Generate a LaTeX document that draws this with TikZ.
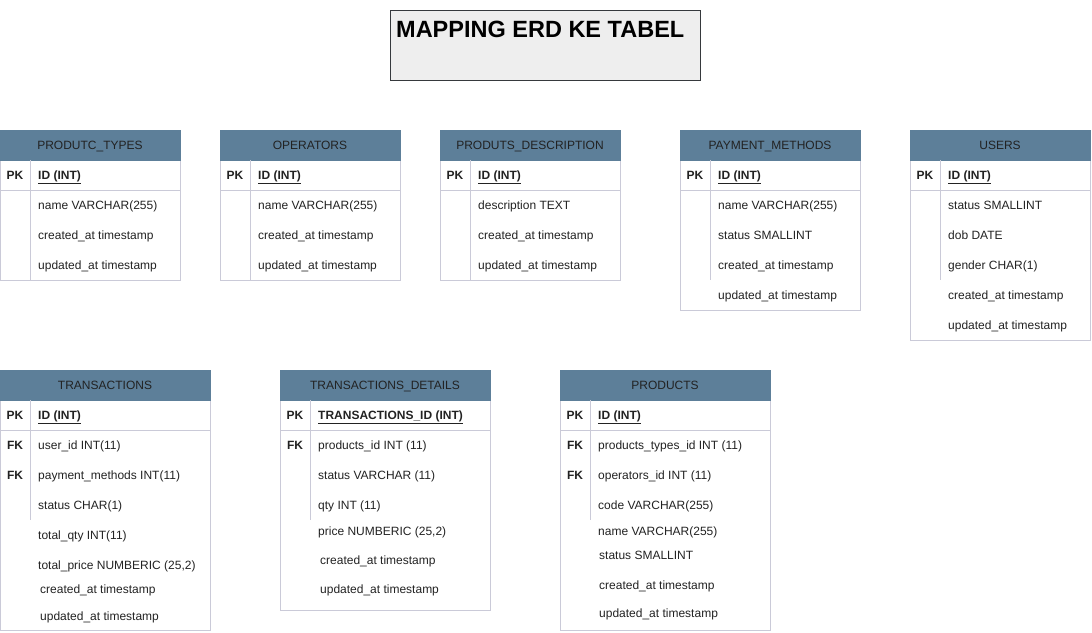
\documentclass[tikz,border=0pt]{standalone}
\usepackage{fontspec}
\setmainfont{Liberation Sans}
\usetikzlibrary{positioning}
\definecolor{hdrblue}{HTML}{5D7F99}
\definecolor{tblline}{HTML}{CACAD8}
\definecolor{titlefill}{HTML}{EEEEEE}
\definecolor{titleline}{HTML}{36393D}
\definecolor{txtdark}{HTML}{222222}

\begin{document}
\begin{tikzpicture}[x=1pt,y=-1pt,
    tblframe/.style={draw=tblline,line width=1pt},
    tblhead/.style={fill=hdrblue,draw=hdrblue,line width=1pt},
    headtxt/.style={font=\fontsize{12}{14}\selectfont,text=txtdark,inner sep=0pt,text height=10pt,text depth=2pt},
    keycol/.style={font=\fontsize{12}{14}\selectfont\bfseries,text=txtdark,inner sep=0pt,text height=10pt,text depth=2pt},
    keyname/.style={keycol,anchor=west},
    fieldtxt/.style={font=\fontsize{12}{14}\selectfont,text=txtdark,inner sep=0pt,anchor=west,text height=10pt,text depth=2pt}]

    \useasboundingbox (0,0) rectangle (1092,632);

    % Judul
    \draw[fill=titlefill,draw=titleline,line width=1pt] (390.5,10.5) rectangle (700.5,80);
    \node[anchor=base west,inner sep=0pt,font=\fontsize{23.5}{26}\selectfont\bfseries] (title) at (396,37) {MAPPING ERD KE TABEL};

    % PRODUTC_TYPES
    \draw[tblframe] (0,130) rectangle (180,280);
    \draw[tblhead] (0,130) rectangle (180,160);
    \node[headtxt] (ptypes) at (90,145) {PRODUTC\_TYPES};
    \draw[tblframe] (0,190) -- (180,190);
    \draw[tblframe] (30,160) -- (30,280);
    \node[keycol] (ptypes-pk) at (15,175) {PK};
    \node[keyname] (ptypes-id) at (38,175) {\underline{ID (INT)}};
    \foreach \t [count=\i] in {name VARCHAR(255), created\_at timestamp, updated\_at timestamp}
        \node[fieldtxt] (ptypes-f\i) at (38,175+30*\i) {\t};

    % OPERATORS
    \draw[tblframe] (220,130) rectangle (400,280);
    \draw[tblhead] (220,130) rectangle (400,160);
    \node[headtxt] (oper) at (310,145) {OPERATORS};
    \draw[tblframe] (220,190) -- (400,190);
    \draw[tblframe] (250,160) -- (250,280);
    \node[keycol] (oper-pk) at (235,175) {PK};
    \node[keyname] (oper-id) at (258,175) {\underline{ID (INT)}};
    \foreach \t [count=\i] in {name VARCHAR(255), created\_at timestamp, updated\_at timestamp}
        \node[fieldtxt] (oper-f\i) at (258,175+30*\i) {\t};

    % PRODUTS_DESCRIPTION
    \draw[tblframe] (440,130) rectangle (620,280);
    \draw[tblhead] (440,130) rectangle (620,160);
    \node[headtxt] (pdesc) at (530,145) {PRODUTS\_DESCRIPTION};
    \draw[tblframe] (440,190) -- (620,190);
    \draw[tblframe] (470,160) -- (470,280);
    \node[keycol] (pdesc-pk) at (455,175) {PK};
    \node[keyname] (pdesc-id) at (478,175) {\underline{ID (INT)}};
    \foreach \t [count=\i] in {description TEXT, created\_at timestamp, updated\_at timestamp}
        \node[fieldtxt] (pdesc-f\i) at (478,175+30*\i) {\t};

    % PAYMENT_METHODS
    \draw[tblframe] (680,130) rectangle (860,310);
    \draw[tblhead] (680,130) rectangle (860,160);
    \node[headtxt] (paym) at (770,145) {PAYMENT\_METHODS};
    \draw[tblframe] (680,190) -- (860,190);
    \draw[tblframe] (710,160) -- (710,280);
    \node[keycol] (paym-pk) at (695,175) {PK};
    \node[keyname] (paym-id) at (718,175) {\underline{ID (INT)}};
    \foreach \t [count=\i] in {name VARCHAR(255), status SMALLINT, created\_at timestamp, updated\_at timestamp}
        \node[fieldtxt] (paym-f\i) at (718,175+30*\i) {\t};

    % USERS
    \draw[tblframe] (910,130) rectangle (1090,340);
    \draw[tblhead] (910,130) rectangle (1090,160);
    \node[headtxt] (users) at (1000,145) {USERS};
    \draw[tblframe] (910,190) -- (1090,190);
    \draw[tblframe] (940,160) -- (940,280);
    \node[keycol] (users-pk) at (925,175) {PK};
    \node[keyname] (users-id) at (948,175) {\underline{ID (INT)}};
    \foreach \t [count=\i] in {status SMALLINT, dob DATE, gender CHAR(1), created\_at timestamp, updated\_at timestamp}
        \node[fieldtxt] (users-f\i) at (948,175+30*\i) {\t};

    % TRANSACTIONS
    \draw[tblframe] (0,370) rectangle (210,630);
    \draw[tblhead] (0,370) rectangle (210,400);
    \node[headtxt] (trans) at (105,385) {TRANSACTIONS};
    \draw[tblframe] (0,430) -- (210,430);
    \draw[tblframe] (30,400) -- (30,520);
    \node[keycol] (trans-pk) at (15,415) {PK};
    \node[keyname] (trans-id) at (38,415) {\underline{ID (INT)}};
    \node[keycol] (trans-fk1) at (15,445) {FK};
    \node[keycol] (trans-fk2) at (15,475) {FK};
    \foreach \t/\y/\x [count=\i] in {user\_id INT(11)/445/38, payment\_methods INT(11)/475/38,
            status CHAR(1)/505/38, total\_qty INT(11)/535/38, {total\_price NUMBERIC (25,2)/565/38},
            created\_at timestamp/589/40, updated\_at timestamp/616/40}
        \node[fieldtxt] (trans-f\i) at (\x,\y) {\t};

    % TRANSACTIONS_DETAILS
    \draw[tblframe] (280,370) rectangle (490,610);
    \draw[tblhead] (280,370) rectangle (490,400);
    \node[headtxt] (tdet) at (385,385) {TRANSACTIONS\_DETAILS};
    \draw[tblframe] (280,430) -- (490,430);
    \draw[tblframe] (310,400) -- (310,520);
    \node[keycol] (tdet-pk) at (295,415) {PK};
    \node[keyname] (tdet-id) at (318,415) {\underline{TRANSACTIONS\_ID (INT)}};
    \node[keycol] (tdet-fk1) at (295,445) {FK};
    \foreach \t/\y/\x [count=\i] in {products\_id INT (11)/445/318, status VARCHAR (11)/475/318,
            qty INT (11)/505/318, {price NUMBERIC (25,2)/531/318},
            created\_at timestamp/560/320, updated\_at timestamp/589/320}
        \node[fieldtxt] (tdet-f\i) at (\x,\y) {\t};

    % PRODUCTS
    \draw[tblframe] (560,370) rectangle (770,630);
    \draw[tblhead] (560,370) rectangle (770,400);
    \node[headtxt] (prod) at (665,385) {PRODUCTS};
    \draw[tblframe] (560,430) -- (770,430);
    \draw[tblframe] (590,400) -- (590,520);
    \node[keycol] (prod-pk) at (575,415) {PK};
    \node[keyname] (prod-id) at (598,415) {\underline{ID (INT)}};
    \node[keycol] (prod-fk1) at (575,445) {FK};
    \node[keycol] (prod-fk2) at (575,475) {FK};
    \foreach \t/\y/\x [count=\i] in {products\_types\_id INT (11)/445/598, operators\_id INT (11)/475/598,
            code VARCHAR(255)/505/598, name VARCHAR(255)/531/598, status SMALLINT/555/599,
            created\_at timestamp/585/599, updated\_at timestamp/613/599}
        \node[fieldtxt] (prod-f\i) at (\x,\y) {\t};
\end{tikzpicture}
\end{document}
